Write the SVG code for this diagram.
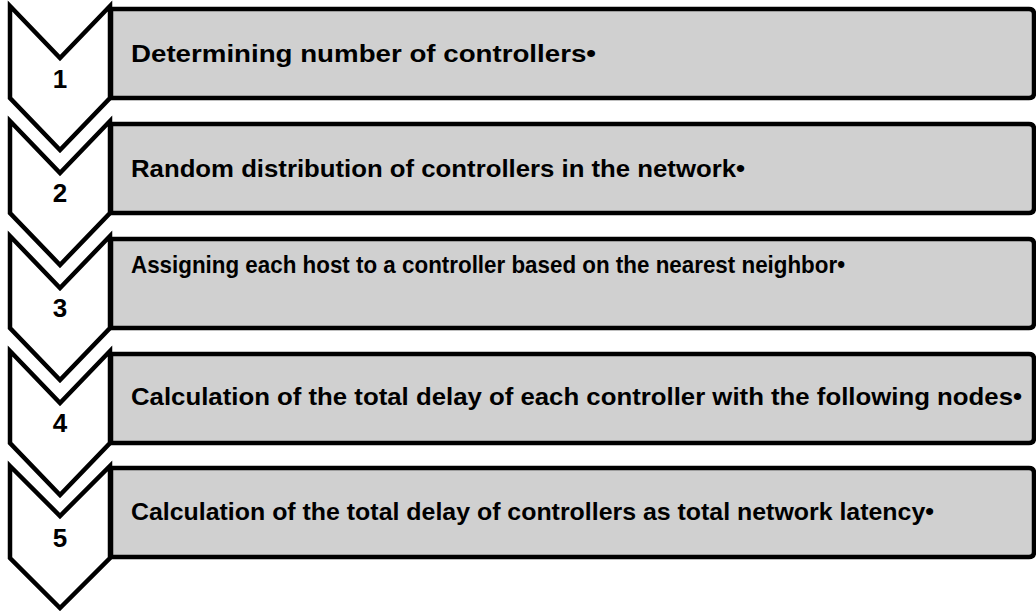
<svg xmlns="http://www.w3.org/2000/svg" width="1036" height="611" viewBox="0 0 1036 611">
<style>
.chev{fill:#ffffff;stroke:#000;stroke-width:4.5;stroke-linejoin:miter}
.box{fill:#d0d0d0;stroke:#000;stroke-width:4.5}
.num{font-family:"Liberation Sans",Arial,sans-serif;font-weight:bold;font-size:26px;fill:#000;text-anchor:middle}
.lbl{font-family:"Liberation Sans",Arial,sans-serif;font-weight:bold;font-size:24.5px;fill:#000}
</style>
<rect width="1036" height="611" fill="#ffffff"/>
<g id="step1">
<path class="box" d="M111,9 H1029 Q1034,9 1034,14 V93 Q1034,98 1029,98 H111 Z"/>
<path class="chev" d="M10,6 L60,58 L110,6 V98 L60,150 L10,98 Z"/>
<text class="num" x="60" y="88">1</text>
<text class="lbl" x="131" y="62" textLength="465" lengthAdjust="spacingAndGlyphs">Determining number of controllers•</text>
</g>
<g id="step2">
<path class="box" d="M111,124 H1029 Q1034,124 1034,129 V208 Q1034,213 1029,213 H111 Z"/>
<path class="chev" d="M10,121 L60,173 L110,121 V213 L60,265 L10,213 Z"/>
<text class="num" x="60" y="202">2</text>
<text class="lbl" x="131" y="177" textLength="614" lengthAdjust="spacingAndGlyphs">Random distribution of controllers in the network•</text>
</g>
<g id="step3">
<path class="box" d="M111,239 H1029 Q1034,239 1034,244 V323 Q1034,328 1029,328 H111 Z"/>
<path class="chev" d="M10,236 L60,288 L110,236 V328 L60,380 L10,328 Z"/>
<text class="num" x="60" y="317">3</text>
<text class="lbl" x="131" y="273" textLength="714" lengthAdjust="spacingAndGlyphs">Assigning each host to a controller based on the nearest neighbor•</text>
</g>
<g id="step4">
<path class="box" d="M111,354 H1029 Q1034,354 1034,359 V438 Q1034,443 1029,443 H111 Z"/>
<path class="chev" d="M10,351 L60,403 L110,351 V443 L60,495 L10,443 Z"/>
<text class="num" x="60" y="432">4</text>
<text class="lbl" x="131" y="405" textLength="891" lengthAdjust="spacingAndGlyphs">Calculation of the total delay of each controller with the following nodes•</text>
</g>
<g id="step5">
<path class="box" d="M111,468 H1029 Q1034,468 1034,473 V552 Q1034,557 1029,557 H111 Z"/>
<path class="chev" d="M10,466 L60,516 L110,466 V558 L60,608 L10,558 Z"/>
<text class="num" x="60" y="547">5</text>
<text class="lbl" x="131" y="520" textLength="803" lengthAdjust="spacingAndGlyphs">Calculation of the total delay of controllers as total network latency•</text>
</g>
<g id="connectors"></g>
</svg>
